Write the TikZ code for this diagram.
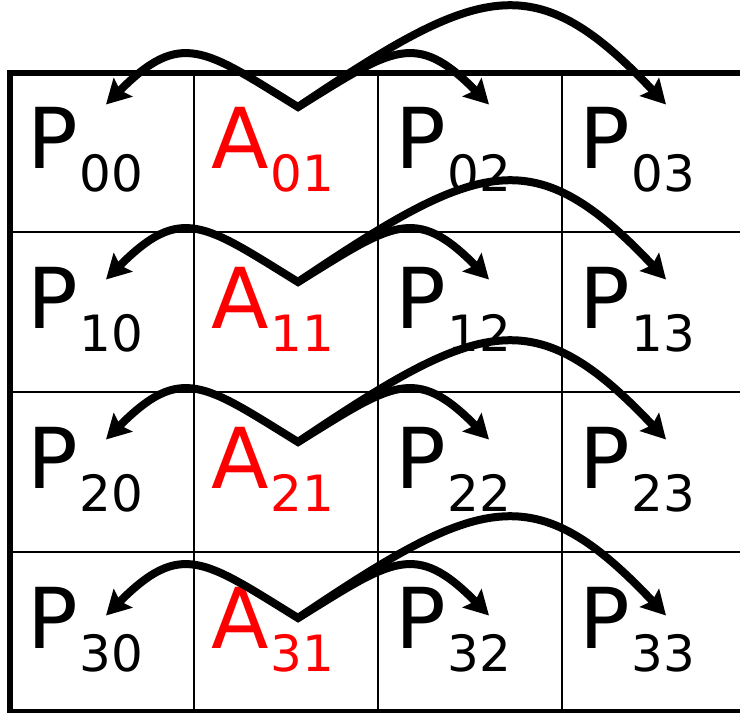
\documentclass[tikz,border=0pt]{standalone}
\usepackage{fontspec}
\setmainfont{DejaVu Sans}
\usetikzlibrary{arrows.meta,calc}
\newcommand\mysub[1]{\kern2pt\raisebox{-23pt}{\fontsize{50}{50}\selectfont #1}}
\begin{document}
\begin{tikzpicture}[x=1pt,y=-1pt,
  gridline/.style={line width=2.2pt},
  frameline/.style={line width=6pt},
  lbl/.style={anchor=base west,inner sep=0pt,font=\fontsize{84}{84}\selectfont},
  redlbl/.style={lbl,text=red},
  arr/.style={line width=8pt,line join=miter},
  myhead/.tip={Stealth[length=24pt,width=26pt,inset=4pt]}]
\useasboundingbox (0,0) rectangle (740,713);
\clip (0,0) rectangle (740,713);
\fill[white] (0,0) rectangle (740,713);
% grid
\foreach \x in {194,378,562} \draw[gridline] (\x,73) -- (\x,712);
\foreach \y in {232,392,552} \draw[gridline] (10,\y) -- (750,\y);
\draw[frameline] (10,73) rectangle (760,712);
% labels
\foreach \r/\by in {0/168,1/328,2/488,3/648} {
  \node[lbl] (p\r0) at (27,\by) {P\mysub{\r0}};
  \node[redlbl] (a\r1) at (211,\by) {A\mysub{\r1}};
  \node[lbl] (p\r2) at (395,\by) {P\mysub{\r2}};
  \node[lbl] (p\r3) at (579,\by) {P\mysub{\r3}};
}
% arrows
\foreach \r/\vy in {0/107,1/282,2/442,3/618} {
  \coordinate (v\r) at (298,\vy);
  \coordinate (l\r) at (106,\vy-2.5);
  \coordinate (n\r) at (489,\vy-2.5);
  \coordinate (f\r) at (666,\vy-2.5);
  \draw[arr,myhead-myhead] (l\r) .. controls ($(v\r)+(-117,-78)$) and ($(v\r)+(-94,-58)$) .. (v\r)
     .. controls ($(v\r)+(182.6,-123.2)$) and ($(v\r)+(236.9,-141.7)$) .. (f\r);
  \draw[arr,-myhead] (v\r) .. controls ($(v\r)+(94,-58)$) and ($(v\r)+(117,-78)$) .. (n\r);
}
\end{tikzpicture}
\end{document}
